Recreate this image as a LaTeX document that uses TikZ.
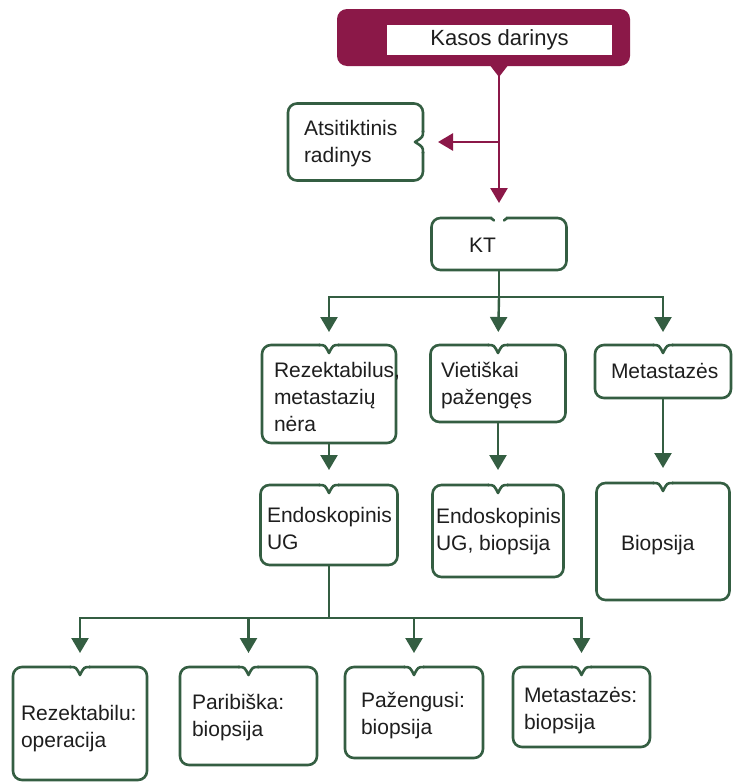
\documentclass[tikz,border=0pt]{standalone}
\usepackage{fontspec}
\setmainfont{Liberation Sans}
\usetikzlibrary{arrows.meta,calc}
\definecolor{maroonc}{RGB}{139,24,72}
\definecolor{glinec}{RGB}{52,94,66}
\definecolor{txtc}{RGB}{30,30,30}
\tikzset{
  boxn/.style={draw=none,rectangle,inner sep=0pt,outer sep=0pt},
  boxline/.style={draw=glinec,line width=2.6pt,rounded corners=9pt},
  notchline/.style={draw=glinec,line width=2.6pt,line cap=round,line join=round},
  conn/.style={draw=glinec,line width=2.4pt},
  garrow/.style={conn,-{Triangle[width=17pt,length=15pt]}},
  mline/.style={draw=maroonc,line width=2.6pt},
  marrow/.style={mline,-{Triangle[width=17pt,length=15pt]}},
  lbl/.style={anchor=base west,inner sep=0pt,outer sep=0pt,font=\fontsize{21}{27}\selectfont,text=txtc},
}
\newcommand\notchbox[1]{%
  \draw[boxline] ($(#1.north)+(9,0)$) -- (#1.north east) -- (#1.south east) -- (#1.south west) -- (#1.north west) -- ($(#1.north)+(-9,0)$);
  \draw[notchline] ($(#1.north)+(-10,0)$) .. controls ($(#1.north)+(-4,0)$) .. ($(#1.north)+(0,8)$) .. controls ($(#1.north)+(4,0)$) .. ($(#1.north)+(10,0)$);
}
\newcommand\vlines[1]{\vtop{\halign{##\hfil\cr#1\crcr}}}
\begin{document}
\begin{tikzpicture}[x=1pt,y=-1pt]
\fill[white] (0,0) rectangle (734,782);
\useasboundingbox (0,0) rectangle (734,782);

% top box
\node[boxn,fill=maroonc,rounded corners=10pt,minimum width=293pt,minimum height=57pt] (top) at (483.5,37.5) {};
\node[boxn,fill=white,minimum width=225pt,minimum height=30pt,font=\fontsize{22}{24}\selectfont,text=txtc] (topin) at (499.5,40) {Kasos darinys};
\fill[maroonc] (489,64) -- (509,64) -- (499,77) -- cycle;
\coordinate (tp) at (499,70);

% boxes
\node[boxn,minimum width=135pt,minimum height=77pt] (atsit) at (355.5,142) {};
\node[boxn,minimum width=135pt,minimum height=52pt] (kt) at (499,244) {};
\node[boxn,minimum width=134pt,minimum height=98pt] (rez) at (329,394) {};
\node[boxn,minimum width=135pt,minimum height=77pt] (viet) at (498,383.5) {};
\node[boxn,minimum width=136pt,minimum height=53pt] (meta) at (663,371.5) {};
\node[boxn,minimum width=137pt,minimum height=80pt] (endo) at (329,525) {};
\node[boxn,minimum width=131pt,minimum height=92pt] (endob) at (498,531) {};
\node[boxn,minimum width=133pt,minimum height=117pt] (biop) at (663,541.5) {};
\node[boxn,minimum width=134pt,minimum height=113pt] (ra) at (80,723.5) {};
\node[boxn,minimum width=137pt,minimum height=98pt] (rb) at (248.5,716) {};
\node[boxn,minimum width=138pt,minimum height=91pt] (rc) at (414,712.5) {};
\node[boxn,minimum width=137pt,minimum height=80pt] (rd) at (581.5,707) {};

% outlines
\draw[boxline] ($(atsit.east)+(0,10)$) -- (atsit.south east) -- (atsit.south west) -- (atsit.north west) -- (atsit.north east) -- ($(atsit.east)+(0,-10)$);
\draw[notchline] ($(atsit.east)+(0,-11)$) .. controls ($(atsit.east)+(0,-5)$) .. ($(atsit.east)+(-8,0)$) .. controls ($(atsit.east)+(0,5)$) .. ($(atsit.east)+(0,11)$);
\draw[boxline] ($(kt.north)+(7,0)$) -- (kt.north east) -- (kt.south east) -- (kt.south west) -- (kt.north west) -- ($(kt.north)+(-7,0)$);
\draw[notchline] ($(kt.north)+(-8,0)$) -- ($(kt.north)+(-5,2.5)$);
\draw[notchline] ($(kt.north)+(8,0)$) -- ($(kt.north)+(5,2.5)$);
\notchbox{rez}
\notchbox{viet}
\notchbox{meta}
\notchbox{endo}
\notchbox{endob}
\notchbox{biop}
\notchbox{ra}
\notchbox{rb}
\notchbox{rc}
\notchbox{rd}

% texts
\node[lbl] (t-atsit) at (304,135) {\vlines{Atsitiktinis\cr radinys}};
\node[lbl] (t-kt) at (469,252) {KT};
\node[lbl] (t-rez) at (274,377) {\vlines{Rezektabilus,\cr metastazių\cr nėra}};
\node[lbl] (t-viet) at (441,377) {\vlines{Vietiškai\cr pažengęs}};
\node[lbl] (t-meta) at (611,378) {Metastazės};
\node[lbl] (t-endo) at (267,522) {\vlines{Endoskopinis\cr UG}};
\node[lbl] (t-endob) at (436,523) {\vlines{Endoskopinis\cr UG, biopsija}};
\node[lbl] (t-biop) at (621,550) {Biopsija};
\node[lbl] (t-ra) at (21,720) {\vlines{Rezektabilu:\cr operacija}};
\node[lbl] (t-rb) at (192,709) {\vlines{Paribiška:\cr biopsija}};
\node[lbl] (t-rc) at (361,707) {\vlines{Pažengusi:\cr biopsija}};
\node[lbl] (t-rd) at (524,702) {\vlines{Metastazės:\cr biopsija}};

% maroon connectors
\coordinate (br) at (499,142);
\draw[mline] (tp) -- (br);
\draw[marrow,shorten >=15pt] (br) -- (atsit.east);
\draw[marrow,shorten >=15pt] (br) -- (kt.north);

% green connectors
\coordinate (j1) at (499,297);
\draw[conn] (kt.south) -- (j1);
\draw[garrow,shorten >=13pt] (j1) -| (rez.north);
\draw[garrow,shorten >=13pt] (j1) -- (viet.north);
\draw[garrow,shorten >=13pt] (j1) -| (meta.north);
\draw[garrow,shorten >=15pt] (rez.south) -- (endo.north);
\draw[garrow,shorten >=15pt] (viet.south) -- (endob.north);
\draw[garrow,shorten >=15pt] (meta.south) -- (biop.north);
\coordinate (j2) at (329,618);
\draw[conn] (endo.south) -- (j2);
\draw[garrow,shorten >=14pt] (j2) -| (ra.north);
\draw[garrow,shorten >=14pt] (j2) -| (rb.north);
\draw[garrow,shorten >=14pt] (j2) -| (rc.north);
\draw[garrow,shorten >=14pt] (j2) -| (rd.north);
\end{tikzpicture}
\end{document}
